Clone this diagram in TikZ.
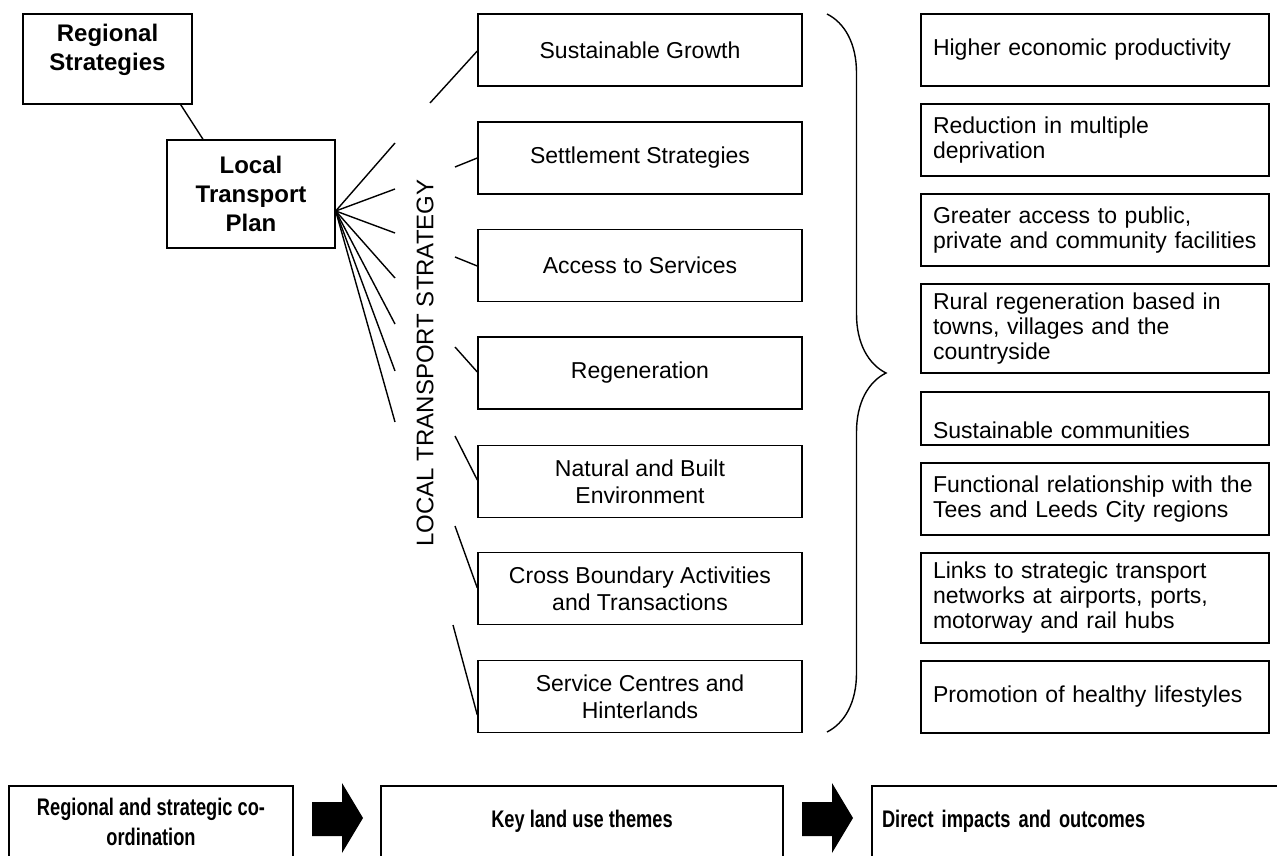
\documentclass[tikz,border=0pt]{standalone}
\usepackage{fontspec}
\setmainfont{Liberation Sans}
\newfontfamily\narrowsans[FakeStretch=0.76]{Liberation Sans}
\usetikzlibrary{decorations.pathreplacing}

\begin{document}
\begin{tikzpicture}[x=0.5pt,y=-0.5pt,line width=0.7pt,
        font=\fontsize{11.5pt}{13.5pt}\selectfont,
        plan/.style={draw,align=center,inner sep=0pt,font=\fontsize{12pt}{14.5pt}\selectfont\bfseries},
        theme/.style={draw,align=center,inner sep=0pt,minimum width=162pt,minimum height=36pt},
        outcome/.style={draw,align=left,text width=162pt,inner xsep=6pt,inner ysep=0pt,minimum height=36pt,font=\fontsize{11.5pt}{12.5pt}\selectfont},
        stage/.style={draw,align=center,inner sep=0pt,minimum height=35.5pt,font=\narrowsans\fontsize{12pt}{15pt}\selectfont\bfseries}]
        \useasboundingbox (0,0) rectangle (1277,855);

        \node[plan,minimum width=84.5pt,minimum height=45pt] (rs) at (107.5,59) {Regional\\Strategies\\[-3pt]\mbox{}};
        \node[plan,minimum width=84pt,minimum height=54pt] (ltp) at (251,194) {Local\\Transport\\Plan};
        \draw ([xshift=-6pt]rs.south east) -- ([xshift=-24pt]ltp.north);

        \node[theme] (t1) at (640,50) {Sustainable Growth};
        \node[theme] (t2) at (640,158) {Settlement Strategies};
        \node[theme] (t3) at (640,265.5) {Access to Services};
        \node[theme] (t4) at (640,373) {Regeneration};
        \node[theme] (t5) at (640,481.5) {Natural and Built\\Environment};
        \node[theme] (t6) at (640,588.5) {Cross Boundary Activities\\and Transactions};
        \node[theme] (t7) at (640,696.5) {Service Centres and\\Hinterlands};

        \node[rotate=90,font=\fontsize{12pt}{14pt}\selectfont] (lts) at (425,363) {LOCAL TRANSPORT STRATEGY};

        % fan out of the plan, broken off short of the strategy text
        \coordinate (hub) at ([yshift=-8.5pt]ltp.east);
        \foreach \y [count=\i] in {143,189,233,278,324,371,422} {
            \coordinate (f\i) at (395,\y);
            \draw (hub) -- (f\i);
        }
        \foreach \x/\y/\e [count=\i] in {430/103/51,455/167/158,455/257/266,455/347/372,455/436/480,455/526/588,453/625/715} {
            \coordinate (s\i) at (\x,\y);
            \draw (s\i) -- (t\i.west |- 0,\e);
        }

        \draw[decorate,decoration={brace,amplitude=29.5pt}] (827,14) -- (827,732);

        \node[outcome] (o1) at (1095,50) {Higher economic productivity};
        \node[outcome] (o2) at (1095,140) {Reduction in multiple\\deprivation};
        \node[outcome] (o3) at (1095,230) {Greater access to public,\\private and community facilities};
        \node[outcome,minimum height=44.5pt] (o4) at (1095,328.5) {Rural regeneration based in\\towns, villages and the\\countryside};
        \node[outcome,minimum height=26.5pt,text height=19.5pt,text depth=0pt] (o5) at (1095,418.5) {Sustainable communities};
        \node[outcome] (o6) at (1095,499) {Functional relationship with the\\Tees and Leeds City regions};
        \node[outcome,minimum height=45pt] (o7) at (1095,598) {Links to strategic transport\\networks at airports, ports,\\motorway and rail hubs};
        \node[outcome] (o8) at (1095,697) {Promotion of healthy lifestyles};

        % bottom row runs off the page
        \node[stage,minimum width=142pt] (coord) at (151,821.5) {Regional and strategic co-\\ordination};
        \node[stage,minimum width=201pt] (land) at (582,821.5) {Key land use themes};
        \node[stage,minimum width=209pt,text width=199pt,align=left] (impact) at (1081,821.5) {Direct impacts and outcomes};
        \foreach \x in {312,802}
            \fill (\x,802) -- ++(30,0) -- ++(0,-19) -- ++(21,35) -- ++(-21,35) -- ++(0,-17) -- ++(-30,0) -- cycle;
\end{tikzpicture}
\end{document}
